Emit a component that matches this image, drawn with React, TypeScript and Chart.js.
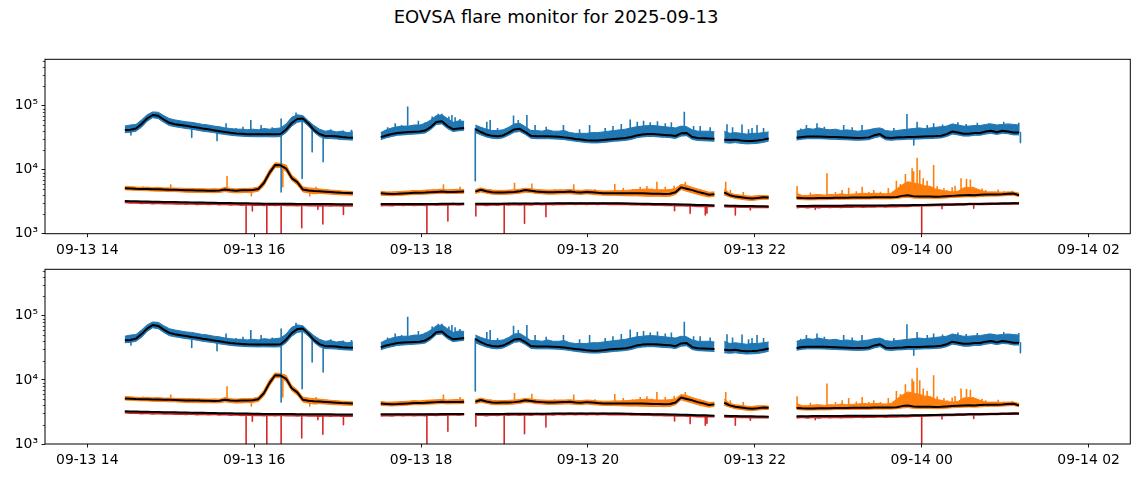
import React, { useEffect, useRef } from 'react';
import { Chart, registerables } from 'chart.js';

Chart.register(...registerables);

// ---------- data (time in minutes after 2025-09-13 00:00, values in thousands) ----------
const SAMPLE_STEP_MIN = 4;
const segmentStart = [867, 1051, 1119, 1298, 1350];

const xTickMinutes = [840, 960, 1080, 1200, 1320, 1440, 1560];
const yMajorTicks = [1e3, 1e4, 1e5];

// blue channel: smoothed (black) curve, upper / lower envelope of the raw trace
const blueMidK = [
  [41.7, 42.0, 44.0, 51.8, 63.1, 71.6, 69.5, 60.9, 54.1, 51.4, 49.9, 48.5, 46.8, 45.5, 44.0, 42.8, 41.3, 40.0, 38.8, 37.7, 36.9, 36.4, 35.9, 35.7, 35.7, 35.7, 35.7, 35.7, 36.1, 42.5, 53.7, 62.0, 63.1, 52.7, 41.7, 36.1, 33.6, 33.6, 33.2, 32.4, 31.9, 31.6],
  [32.3, 34.3, 36.1, 37.5, 38.2, 38.8, 39.1, 39.5, 41.0, 46.4, 55.5, 57, 48, 43, 44, 45],
  [43.1, 38.8, 35.5, 33.8, 33.3, 34.3, 37.9, 42.5, 43.5, 38.8, 33.8, 33.3, 33.3, 33.3, 33.0, 32.6, 32.0, 31.2, 30.3, 29.7, 28.9, 28.6, 28.6, 29.1, 29.7, 30.3, 30.7, 31.2, 32.4, 34.3, 35.5, 36.1, 36.1, 35.5, 35.0, 34.6, 33.6, 37.0, 37.5, 32.4, 31.2, 30.9, 30.7, 30.4],
  [29.5, 29.0, 29.5, 28.5, 28.0, 28.2, 28.6, 29.5, 30.8],
  [31.5, 32.5, 33.0, 33.0, 33.0, 32.8, 32.5, 32.3, 32.0, 31.8, 31.5, 31.3, 31.5, 32.0, 34.5, 36.0, 31.8, 31.3, 31.8, 32.0, 32.5, 32.5, 32.7, 33.0, 33.2, 33.5, 34.0, 36.0, 39.5, 38.0, 36.5, 36.5, 37.5, 37.5, 39.5, 40.5, 38.5, 40.5, 39.5, 38.0, 38.0],
];
const blueHiK = [
  [48, 50, 51, 60, 72, 80, 79, 70, 63, 60, 58, 56, 55, 53, 51, 50, 48, 47, 45, 44, 43, 43, 42, 43, 42, 44, 43, 44, 45, 52, 66, 72, 70, 58, 49, 43, 40, 41, 39, 40, 38, 39],
  [38, 42, 45, 47, 48, 48, 50, 50, 53, 60, 70, 72, 63, 55, 58, 57],
  [50, 46, 43, 41, 41, 42, 46, 52, 53, 47, 41, 41, 40, 42, 40, 40, 41, 38, 37, 37, 37, 38, 38, 39, 40, 41, 42, 43, 45, 47, 48, 49, 49, 48, 47, 46, 45, 48, 47, 42, 40, 40, 40, 39],
  [40, 37, 38, 37, 36, 37, 37, 38, 39],
  [40, 42, 44, 43, 45, 43, 42, 43, 41, 42, 41, 40, 41, 42, 44, 45, 41, 40, 41, 42, 43, 44, 45, 44, 45, 46, 47, 48, 52, 50, 48, 48, 49, 49, 51, 52, 50, 51, 52, 51, 50],
];
const blueLoK = [
  [38, 38.5, 40, 46, 57, 65, 63, 55, 49, 47, 45.5, 44, 43, 41.5, 40, 39, 38, 36.5, 35.5, 34.5, 33.8, 33.4, 33, 32.8, 32.7, 32.8, 32.7, 32.6, 33, 38, 48, 55, 57, 48, 38.5, 33, 30.8, 30.6, 30.3, 29.6, 29.3, 29],
  [29.5, 31.5, 33, 34.5, 35, 35.5, 36, 36.5, 37.5, 42.5, 51, 52, 44, 39.5, 40.5, 41.5],
  [38, 35, 32.5, 31, 30.5, 31.5, 34.5, 38.5, 39.5, 35.5, 31, 30.5, 30.5, 30.5, 30.3, 30, 29.5, 28.7, 27.8, 27.2, 26.5, 26.2, 26.2, 26.7, 27.2, 27.8, 28.2, 28.7, 29.7, 31.5, 32.5, 33, 33, 32.5, 32, 31.7, 30.8, 33.5, 34, 29.7, 28.6, 28.3, 28.1, 27.8],
  [26.5, 26, 26.5, 25.8, 25.3, 25.5, 25.8, 26.7, 28],
  [29, 30, 30.5, 30.5, 30.5, 30.3, 30, 29.8, 29.5, 29.3, 29, 28.8, 29, 29.5, 31.5, 33, 29.3, 28.8, 29.3, 29.5, 30, 30, 30.2, 30.5, 30.6, 31, 31.4, 33, 36, 35, 33.5, 33.5, 34.5, 34.5, 36, 37, 35.5, 37, 36.5, 35, 35],
];
const blueSpikeT = [871.4, 915.1, 925, 933.3, 939.8, 957.6, 965, 979.4, 990.1, 994.5, 1001.7, 1009.6,
  878, 905, 947, 952, 973, 1015, 1024, 1030,
  1061.4, 1070.4, 1078.1, 1088, 1092.3, 1102.2, 1104.5,
  1056, 1066, 1083, 1095, 1100, 1108,
  1119, 1127.3, 1129.7, 1146.5, 1149.9, 1156.1, 1182.4, 1201.2, 1212.4, 1230.4, 1235.5, 1244.8, 1255.6, 1269.3, 1280.7, 1287.9,
  1135, 1162, 1170, 1194, 1218, 1224, 1240, 1250, 1260, 1276,
  1300, 1310.8, 1315.5, 1321.6, 1326.3, 1304, 1318,
  1357.1, 1364.7, 1383.9, 1397.1, 1429.4, 1434.3, 1436.7, 1448.6, 1488.2, 1499, 1509.8, 1511,
  1353, 1370, 1390, 1412, 1420, 1444, 1455, 1466, 1472, 1480, 1492, 1504];
const blueSpikeFromK = [42, 46.8, 44, 41, 39, 36, 36, 62, 60, 60, 48, 35,
  50, 50, 37, 36.5, 35.7, 33.6, 32.4, 31.6,
  38, 39, 40, 48, 56, 44, 44,
  34, 38, 40, 57, 48, 44,
  44, 36, 35, 42, 43, 40, 33, 29, 30, 32, 34, 36, 35, 38, 31, 30.5,
  33, 33, 33, 29.7, 30, 30.7, 35, 35.5, 34, 32,
  30, 29, 28, 28.5, 29, 29, 28.2,
  33, 33, 32, 31.5, 32.5, 32.5, 32.7, 33.2, 39.5, 40, 38, 38,
  32, 33, 31.5, 32, 31.5, 33, 34, 38, 36.5, 37.5, 39, 39];
const blueSpikeToK = [34.9, 32, 51, 28.5, 53, 60, 50, 4.5, 78, 7.3, 19, 13.3,
  56, 57, 45, 47, 46, 43, 41, 42,
  53, 97, 58, 68, 75, 71.6, 66,
  46, 50, 55, 75, 68, 62,
  6.7, 56, 59.8, 70, 60, 71.6, 50, 50, 45, 61, 56, 55, 53, 80.6, 48, 46,
  45, 50, 47, 43, 48, 52, 58, 57, 55, 48,
  51.4, 51, 43, 50, 45, 46, 45,
  50, 53, 50, 50, 74, 24.3, 56, 53, 53, 56, 54, 26.5,
  44, 47, 46, 44, 45, 50, 51, 55, 52, 54, 52, 50];

// orange channel
const orangeMidK = [
  [5.12, 5.09, 5.03, 5.0, 5.0, 4.96, 4.94, 4.91, 4.88, 4.85, 4.82, 4.78, 4.76, 4.75, 4.73, 4.71, 4.70, 4.73, 4.91, 4.76, 4.71, 4.76, 4.78, 4.82, 5.0, 6.2, 8.9, 11.8, 11.7, 10.4, 7.4, 6.4, 4.9, 4.73, 4.65, 4.6, 4.53, 4.48, 4.41, 4.35, 4.31, 4.27],
  [4.27, 4.22, 4.17, 4.2, 4.25, 4.3, 4.35, 4.38, 4.4, 4.45, 4.5, 4.55, 4.5, 4.5, 4.52, 4.55],
  [4.55, 4.85, 4.6, 4.45, 4.4, 4.42, 4.45, 4.5, 4.6, 4.8, 4.7, 4.55, 4.5, 4.45, 4.45, 4.48, 4.5, 4.55, 4.45, 4.4, 4.5, 4.45, 4.35, 4.3, 4.28, 4.3, 4.3, 4.28, 4.27, 4.27, 4.27, 4.25, 4.22, 4.2, 4.18, 4.2, 4.45, 5.3, 5.05, 4.8, 4.5, 4.3, 4.05, 4.15],
  [4.4, 4.0, 3.8, 3.7, 3.6, 3.55, 3.6, 3.7, 3.68],
  [3.65, 3.6, 3.58, 3.58, 3.6, 3.6, 3.62, 3.65, 3.65, 3.66, 3.67, 3.67, 3.68, 3.68, 3.7, 3.7, 3.7, 3.7, 3.75, 3.9, 4.0, 3.85, 3.8, 3.8, 3.8, 3.78, 3.8, 3.85, 3.9, 3.95, 4.0, 4.02, 4.0, 4.05, 4.08, 4.1, 4.1, 4.12, 4.2, 4.25, 4.0],
];
const orangeHiK = [
  [5.5, 5.45, 5.35, 5.3, 5.35, 5.25, 5.3, 5.2, 5.2, 5.15, 5.15, 5.1, 5.1, 5.05, 5.05, 5.0, 5.05, 5.0, 5.3, 5.1, 5.0, 5.1, 5.1, 5.15, 5.4, 6.9, 10, 12.8, 12.6, 11.8, 8.2, 7.0, 5.4, 5.2, 5.1, 5.0, 4.9, 4.8, 4.75, 4.65, 4.6, 4.55],
  [4.6, 4.5, 4.5, 4.55, 4.6, 4.65, 4.75, 4.7, 4.8, 4.85, 4.9, 4.95, 4.85, 4.9, 4.95, 4.9],
  [4.9, 5.2, 4.95, 4.8, 4.75, 4.75, 4.8, 4.85, 4.95, 5.15, 5.05, 4.9, 4.85, 4.8, 4.8, 4.85, 4.85, 4.9, 4.8, 4.75, 4.85, 4.8, 4.7, 4.65, 4.65, 4.7, 4.7, 4.75, 4.8, 4.9, 4.95, 5.0, 4.9, 4.85, 4.85, 4.9, 5.1, 5.9, 5.7, 5.3, 5.0, 4.75, 4.45, 4.5],
  [5.0, 4.3, 4.1, 4.0, 3.9, 3.85, 3.95, 3.95, 3.9],
  [4.3, 3.95, 3.95, 4.05, 4.1, 4.0, 4.1, 4.05, 4.2, 4.1, 4.15, 4.2, 4.3, 4.2, 4.3, 4.25, 4.2, 4.3, 5.0, 5.8, 6.5, 6.2, 6.0, 5.6, 5.5, 5.0, 4.8, 4.6, 4.5, 4.6, 5.2, 5.3, 5.2, 4.8, 4.5, 4.5, 4.5, 4.45, 4.5, 4.5, 4.3],
];
const orangeLoK = [
  [4.85, 4.8, 4.75, 4.72, 4.7, 4.65, 4.62, 4.6, 4.55, 4.55, 4.5, 4.45, 4.42, 4.42, 4.4, 4.4, 4.38, 4.4, 4.55, 4.42, 4.35, 4.38, 4.42, 4.45, 4.6, 5.6, 8.0, 10.8, 10.8, 9.4, 6.8, 5.8, 4.5, 4.35, 4.2, 4.25, 4.2, 4.15, 4.1, 4.05, 4.02, 4.0],
  [4.0, 3.95, 3.92, 3.95, 4.0, 4.05, 4.1, 4.1, 4.15, 4.2, 4.22, 4.28, 4.22, 4.25, 4.25, 4.3],
  [4.25, 4.5, 4.3, 4.15, 4.1, 4.12, 4.15, 4.2, 4.3, 4.45, 4.4, 4.25, 4.2, 4.15, 4.15, 4.18, 4.2, 4.22, 4.15, 4.1, 4.2, 4.12, 4.05, 4.0, 3.98, 3.98, 3.95, 3.92, 3.9, 3.9, 3.88, 3.85, 3.85, 3.85, 3.82, 3.85, 4.1, 4.9, 4.6, 4.35, 4.1, 3.9, 3.75, 3.85],
  [4.0, 3.75, 3.55, 3.45, 3.35, 3.3, 3.38, 3.45, 3.45],
  [3.45, 3.4, 3.38, 3.38, 3.4, 3.4, 3.42, 3.45, 3.45, 3.46, 3.47, 3.47, 3.48, 3.48, 3.5, 3.5, 3.5, 3.5, 3.55, 3.65, 3.7, 3.6, 3.58, 3.58, 3.58, 3.56, 3.58, 3.62, 3.68, 3.72, 3.75, 3.78, 3.75, 3.8, 3.85, 3.87, 3.87, 3.9, 3.95, 4.0, 3.8],
];
const orangeSpikeT = [900, 940.5, 958, 980.6, 1000, 1004.5, 880, 920, 1012,
  1096.1, 1108.1,
  1147.2, 1159.7, 1189.8, 1219.3, 1225.4, 1237.6, 1242.4, 1249.6, 1255.6, 1270,
  1130, 1176, 1205, 1232, 1246, 1262, 1280,
  1299.1, 1302.4, 1311.7,
  1350.4, 1371.9, 1382.8, 1387.5, 1397.2, 1405.5, 1410.3, 1421.8, 1424.7, 1428.3, 1429.9, 1433.1, 1434.2, 1436.7, 1438.6, 1441.1, 1443.9, 1448.6, 1451.1, 1458.3, 1461.9, 1468.3, 1472.2, 1475, 1477, 1483.4, 1499,
  1360, 1378, 1393, 1402, 1416, 1456, 1464, 1486, 1495, 1505];
const orangeSpikeFromK = [4.88, 4.8, 4.8, 11.5, 4.73, 4.65, 5.0, 4.75, 4.45,
  4.5, 4.5,
  4.5, 4.7, 4.5, 4.3, 4.3, 4.27, 4.25, 4.22, 4.2, 5.2,
  4.4, 4.45, 4.45, 4.27, 4.22, 4.45, 4.3,
  4.3, 4.0, 3.7,
  3.65, 3.62, 3.65, 3.66, 3.67, 3.68, 3.7, 4.5, 4.5, 4.5, 4.5, 4.5, 4.5, 4.5, 4.5, 4.5, 4.3, 4.3, 4.2, 3.9, 3.9, 4.0, 4.0, 4.0, 4.0, 4.05, 4.15,
  3.6, 3.65, 3.67, 3.68, 3.8, 3.85, 3.95, 4.1, 4.1, 4.25];
const orangeSpikeToK = [5.9, 7.98, 3.9, 5.4, 3.9, 5.4, 5.5, 5.2, 4.95,
  5.9, 5.4,
  6.26, 6.1, 5.9, 6.0, 5.2, 5.4, 5.57, 6.5, 5.4, 6.5,
  5.0, 5.0, 5.0, 5.0, 5.1, 5.6, 4.9,
  6.5, 4.8, 4.5,
  5.57, 8.77, 4.82, 5.24, 5.43, 4.8, 4.53, 6.7, 6.0, 8.57, 6.13, 10.5, 9.5, 15.4, 9.9, 7.35, 6.7, 11.8, 5.5, 4.82, 5.3, 7.35, 7.2, 7.0, 5.4, 5.1, 4.6,
  4.4, 4.5, 4.6, 4.5, 5.2, 5.2, 5.6, 4.8, 4.9, 4.7];

// red channel
const redMidK = [
  [3.24, 3.22, 3.21, 3.19, 3.18, 3.17, 3.15, 3.14, 3.13, 3.12, 3.1, 3.09, 3.08, 3.07, 3.06, 3.05, 3.04, 3.03, 3.02, 3.01, 3.0, 2.99, 2.98, 2.97, 2.96, 2.95, 2.95, 2.94, 2.94, 2.93, 2.93, 2.92, 2.92, 2.91, 2.91, 2.9, 2.9, 2.9, 2.89, 2.89, 2.88, 2.88],
  [2.9, 2.9, 2.9, 2.91, 2.91, 2.91, 2.91, 2.92, 2.92, 2.92, 2.92, 2.93, 2.93, 2.93, 2.93, 2.94],
  [2.94, 2.94, 2.95, 2.95, 2.95, 2.95, 2.96, 2.96, 2.96, 2.96, 2.97, 2.97, 2.97, 2.97, 2.98, 2.98, 2.98, 2.98, 2.98, 2.99, 2.99, 2.99, 2.99, 2.99, 2.99, 2.98, 2.98, 2.97, 2.96, 2.95, 2.94, 2.93, 2.92, 2.91, 2.9, 2.89, 2.88, 2.87, 2.86, 2.84, 2.82, 2.8, 2.78, 2.76],
  [2.75, 2.74, 2.73, 2.72, 2.71, 2.7, 2.69, 2.68, 2.67],
  [2.72, 2.72, 2.72, 2.73, 2.73, 2.73, 2.74, 2.74, 2.74, 2.75, 2.75, 2.75, 2.76, 2.76, 2.77, 2.77, 2.77, 2.78, 2.78, 2.79, 2.79, 2.8, 2.81, 2.82, 2.83, 2.84, 2.85, 2.86, 2.87, 2.88, 2.89, 2.9, 2.91, 2.92, 2.93, 2.94, 2.95, 2.96, 2.97, 2.98, 2.98],
];
const redRawK = [
  [3.12, 3.06, 3.1, 3.03, 3.08, 3.0, 3.05, 2.98, 3.03, 2.96, 3.0, 2.93, 2.98, 2.92, 2.96, 2.9, 2.95, 2.88, 2.93, 2.86, 2.9, 2.84, 2.89, 2.83, 2.87, 2.82, 2.86, 2.81, 2.85, 2.8, 2.84, 2.78, 2.83, 2.78, 2.82, 2.77, 2.81, 2.76, 2.8, 2.75, 2.79, 2.77],
  [2.78, 2.84, 2.78, 2.85, 2.8, 2.86, 2.81, 2.87, 2.82, 2.88, 2.84, 2.89, 2.85, 2.9, 2.87, 2.92],
  [2.83, 2.88, 2.82, 2.89, 2.84, 2.9, 2.85, 2.91, 2.86, 2.92, 2.87, 2.93, 2.88, 2.94, 2.89, 2.95, 2.9, 2.96, 2.91, 2.96, 2.92, 2.97, 2.92, 2.96, 2.91, 2.95, 2.9, 2.93, 2.88, 2.9, 2.85, 2.88, 2.83, 2.85, 2.8, 2.83, 2.78, 2.8, 2.75, 2.77, 2.72, 2.74, 2.7, 2.71],
  [2.68, 2.66, 2.66, 2.64, 2.64, 2.62, 2.62, 2.61, 2.62],
  [2.6, 2.66, 2.58, 2.65, 2.6, 2.66, 2.61, 2.67, 2.62, 2.67, 2.63, 2.68, 2.64, 2.69, 2.65, 2.7, 2.66, 2.71, 2.68, 2.73, 2.7, 2.75, 2.75, 2.78, 2.78, 2.81, 2.81, 2.84, 2.84, 2.87, 2.87, 2.9, 2.9, 2.92, 2.92, 2.94, 2.94, 2.96, 2.96, 2.98, 2.97],
];
const redSpikeT = [954.2, 958.7, 969.1, 979.4, 994.2, 1005.8, 1009.4, 1024.2,
  1084.2, 1099.3,
  1119.4, 1139.8, 1154.4, 1169.8, 1262.3, 1273.5, 1284.4, 1285.6,
  1306, 1316.8,
  1363.5, 1440, 1454.6, 1477.4];
const redSpikeFromK = [2.95, 2.95, 2.94, 2.94, 2.92, 2.91, 2.9, 2.88,
  2.92, 2.93,
  2.94, 2.96, 2.96, 2.97, 2.88, 2.86, 2.8, 2.8,
  2.73, 2.7,
  2.73, 2.79, 2.85, 2.9];
const redSpikeToK = [0.5, 2.26, 0.5, 0.5, 1.24, 2.4, 1.42, 2.0,
  0.5, 1.58,
  1.89, 0.5, 1.45, 1.84, 2.29, 2.08, 1.96, 2.1,
  1.96, 2.35,
  2.4, 0.5, 2.45, 2.5];

// ---------- styling ----------
const BLUE = '#1f77b4';
const ORANGE = '#ff7f0e';
const RED = '#d62728';
const FONT = 'DejaVu Sans';
const K = 1000;
const SUP: Record<number, string> = { 3: '\u00B3', 4: '\u2074', 5: '\u2075' };

function pts(vals: number[], s: number) {
  return vals.map((v, i) => ({ x: segmentStart[s] + i * SAMPLE_STEP_MIN, y: v * K }));
}

function buildDatasets() {
  const ds: any[] = [];
  const base = { type: 'line', pointRadius: 0, tension: 0, clip: 0, spanGaps: false, borderJoinStyle: 'round' };
  const band = (hi: number[][], lo: number[][], color: string) => {
    hi.forEach((seg, s) => {
      ds.push({ ...base, data: pts(seg, s), borderColor: color, backgroundColor: color, borderWidth: 1, fill: '+1', order: 6 });
      ds.push({ ...base, data: pts(lo[s], s), borderColor: color, borderWidth: 1, fill: false, order: 6 });
    });
  };
  const spikes = (T: number[], F: number[], To: number[], color: string) => {
    const data: any[] = [];
    T.forEach((t, i) => {
      data.push({ x: t, y: F[i] * K }, { x: t, y: To[i] * K }, { x: t, y: null });
    });
    ds.push({ ...base, data, borderColor: color, borderWidth: 1.6, fill: false, order: 4 });
  };
  const line = (vals: number[][], color: string, w: number, order: number) => {
    vals.forEach((seg, s) => ds.push({ ...base, data: pts(seg, s), borderColor: color, borderWidth: w, fill: false, order }));
  };
  band(blueHiK, blueLoK, BLUE);
  band(orangeHiK, orangeLoK, ORANGE);
  line(redRawK, RED, 2.5, 5);
  spikes(blueSpikeT, blueSpikeFromK, blueSpikeToK, BLUE);
  spikes(orangeSpikeT, orangeSpikeFromK, orangeSpikeToK, ORANGE);
  spikes(redSpikeT, redSpikeFromK, redSpikeToK, RED);
  line(blueMidK, '#000', 2, 1);
  line(orangeMidK, '#000', 2, 1);
  line(redMidK, '#000', 2, 1);
  return ds;
}

function fmtTime(v: number) {
  const day = 13 + Math.floor(v / 1440);
  const hour = Math.floor((v % 1440) / 60);
  return `09-${String(day).padStart(2, '0')} ${String(hour).padStart(2, '0')}`;
}

const framePlugin = {
  id: 'frame',
  afterDraw(chart: any) {
    const { ctx, chartArea: a } = chart;
    const y = chart.scales.y;
    ctx.save();
    ctx.strokeStyle = '#000';
    ctx.lineWidth = 1;
    ctx.strokeRect(a.left, a.top, a.right - a.left, a.bottom - a.top);
    ctx.lineWidth = 0.7;
    for (const d of yMajorTicks) {
      for (let k = 2; k <= 9; k++) {
        const v = d * k;
        if (v > y.max) break;
        const py = Math.round(y.getPixelForValue(v)) + 0.5;
        ctx.beginPath();
        ctx.moveTo(a.left, py);
        ctx.lineTo(a.left - 2.2, py);
        ctx.stroke();
      }
    }
    ctx.restore();
  },
};

function Panel({ top, height, padTop, xAxisHeight }: { top: number; height: number; padTop: number; xAxisHeight: number }) {
  const ref = useRef<HTMLCanvasElement | null>(null);
  useEffect(() => {
    if (!ref.current) return;
    const grid = { drawOnChartArea: false, drawTicks: true, tickLength: 3.5, tickColor: '#000', tickWidth: 0.9 };
    const chart = new Chart(ref.current, {
      type: 'line',
      data: { datasets: buildDatasets() },
      plugins: [framePlugin],
      options: {
        animation: false,
        responsive: true,
        maintainAspectRatio: false,
        events: [],
        layout: { padding: { top: padTop, right: 12.7, left: 0, bottom: 0 } },
        plugins: { legend: { display: false }, tooltip: { enabled: false }, title: { display: false } },
        scales: {
          x: {
            type: 'linear',
            min: 809.6,
            max: 1590,
            afterBuildTicks: (s: any) => { s.ticks = xTickMinutes.map((v) => ({ value: v })); },
            afterFit: (s: any) => { s.height = xAxisHeight; },
            grid,
            border: { display: false },
            ticks: {
              autoSkip: false, maxRotation: 0, minRotation: 0, padding: 5, color: '#000',
              font: { family: FONT, size: 13.9 },
              callback: (v: any) => fmtTime(Number(v)),
            },
          },
          y: {
            type: 'logarithmic',
            min: 1000,
            max: 5.31e5,
            afterBuildTicks: (s: any) => { s.ticks = yMajorTicks.map((v) => ({ value: v })); },
            afterFit: (s: any) => { s.width = 45; },
            grid,
            border: { display: false },
            ticks: {
              padding: 3.5, color: '#000',
              font: { family: FONT, size: 13.9 },
              callback: (v: any) => '10' + (SUP[Math.round(Math.log10(Number(v)))] || ''),
            },
          },
        },
      } as any,
    });
    return () => chart.destroy();
  }, []);
  return (
    <div style={{ position: 'absolute', left: 0, top, width: 1143, height }}>
      <canvas ref={ref} />
    </div>
  );
}

export default function App() {
  return (
    <div style={{ position: 'fixed', left: 0, top: 0, width: 1143, height: 478, background: '#fff', overflow: 'hidden' }}>
      <div
        style={{
          position: 'absolute', left: 0, top: 6, width: 1112, textAlign: 'center',
          fontFamily: FONT, fontSize: 18, lineHeight: '22px', color: '#000', whiteSpace: 'nowrap',
        }}
      >
        EOVSA flare monitor for 2025-09-13
      </div>
      <Panel top={0} height={262} padTop={59.3} xAxisHeight={28.3} />
      <Panel top={240} height={238} padTop={29.3} xAxisHeight={34} />
    </div>
  );
}
